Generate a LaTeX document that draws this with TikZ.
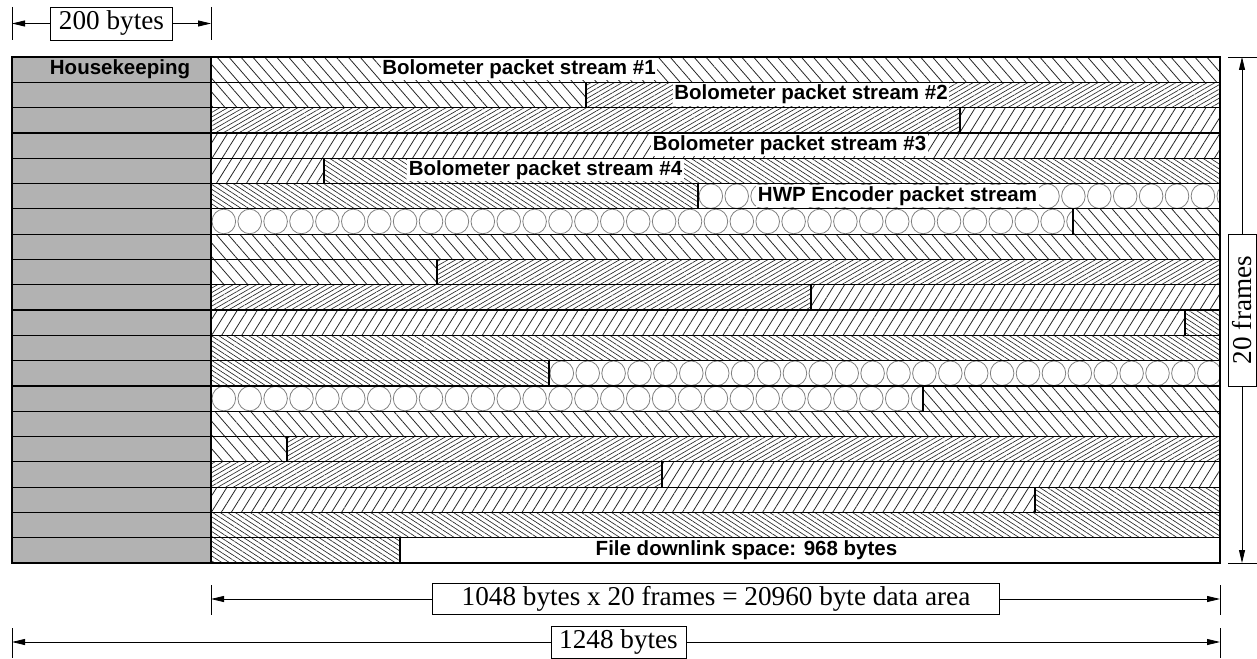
\documentclass[tikz,border=0pt]{standalone}
\usepackage{fontspec}
\setmainfont{Liberation Serif}
\setsansfont{Liberation Sans}
\usetikzlibrary{patterns.meta,arrows.meta}
\tikzset{
  hatchA/.style={pattern={Lines[angle=-49,distance=9pt,line width=0.8pt]},pattern color=black!85},
  hatchB/.style={pattern={Lines[angle=30,distance=3.9pt,line width=0.65pt]},pattern color=black!85},
  hatchC/.style={pattern={Lines[angle=58,distance=8.5pt,line width=0.8pt]},pattern color=black!85},
  hatchD/.style={pattern={Lines[angle=-33,distance=4.1pt,line width=0.65pt]},pattern color=black!85},
  blank/.style={fill=white},
  cell/.style={draw=black,line width=1.2pt},
  hkcell/.style={cell,fill=black!30},
  circ/.style={draw=black!50,line width=0.8pt},
  lbltext/.style={font=\sffamily\bfseries\fontsize{20.5}{24}\selectfont,inner sep=1.5pt,anchor=base},
  lbl/.style={lbltext,fill=white},
  dimbox/.style={draw=black,line width=0.8pt,fill=white,font=\fontsize{27.2}{32}\selectfont,inner sep=0pt},
  dimline/.style={line width=0.8pt,-{Triangle[length=13pt,width=6pt]}},
  tickline/.style={line width=0.8pt},
}
\newcommand\pseg[4]{%
  \pgfmathsetmacro\yt{57+25.3*(#3-1)}%
  \pgfmathsetmacro\yb{\yt+25.3}%
  \path[#4,cell] (#1,\yt) rectangle (#2,\yb);%
}
\newcommand\cseg[3]{%
  \pgfmathsetmacro\yt{57+25.3*(#3-1)}%
  \pgfmathsetmacro\yc{\yt+12.65}%
  \pgfmathsetmacro\yb{\yt+25.3}%
  \pgfmathtruncatemacro\nc{(#2-#1)/25.9}%
  \begin{scope}
    \clip (#1,\yt) rectangle (#2,\yb);
    \foreach \i in {0,...,\nc} \draw[circ] ({#1+12.8+\i*25.9},\yc) ellipse [x radius=11.8, y radius=12.3];
  \end{scope}
  \draw[cell] (#1,\yt) rectangle (#2,\yb);%
}
\begin{document}
\begin{tikzpicture}[x=1pt,y=-1pt]
\useasboundingbox (0,0) rectangle (1257,658);
% housekeeping column
\foreach \r in {1,...,20}{
  \pgfmathsetmacro\ht{57+25.3*(\r-1)}
  \pgfmathsetmacro\hb{\ht+25.3}
  \path[hkcell] (12,\ht) rectangle (211,\hb);
}
% data rows
\pseg{211}{1220}{1}{hatchA}
\pseg{211}{586}{2}{hatchA}
\pseg{586}{1220}{2}{hatchB}
\pseg{211}{960}{3}{hatchB}
\pseg{960}{1220}{3}{hatchC}
\pseg{211}{1220}{4}{hatchC}
\pseg{211}{324}{5}{hatchC}
\pseg{324}{1220}{5}{hatchD}
\pseg{211}{698}{6}{hatchD}
\cseg{698}{1220}{6}
\cseg{211}{1073}{7}
\pseg{1073}{1220}{7}{hatchA}
\pseg{211}{1220}{8}{hatchA}
\pseg{211}{437}{9}{hatchA}
\pseg{437}{1220}{9}{hatchB}
\pseg{211}{811}{10}{hatchB}
\pseg{811}{1220}{10}{hatchC}
\pseg{211}{1185}{11}{hatchC}
\pseg{1185}{1220}{11}{hatchD}
\pseg{211}{1220}{12}{hatchD}
\pseg{211}{549}{13}{hatchD}
\cseg{549}{1220}{13}
\cseg{211}{923}{14}
\pseg{923}{1220}{14}{hatchA}
\pseg{211}{1220}{15}{hatchA}
\pseg{211}{287}{16}{hatchA}
\pseg{287}{1220}{16}{hatchB}
\pseg{211}{662}{17}{hatchB}
\pseg{662}{1220}{17}{hatchC}
\pseg{211}{1035}{18}{hatchC}
\pseg{1035}{1220}{18}{hatchD}
\pseg{211}{1220}{19}{hatchD}
\pseg{211}{400}{20}{hatchD}
\pseg{400}{1220}{20}{blank}
% labels
\node[lbltext] (hk) at (120,74.5) {Housekeeping};
\node[lbl] (s1) at (519,74.5) {Bolometer packet stream \#1};
\node[lbl] (s2) at (811,99.8) {Bolometer packet stream \#2};
\node[lbl] (s3) at (789.5,150.4) {Bolometer packet stream \#3};
\node[lbl] (s4) at (545.5,175.7) {Bolometer packet stream \#4};
\node[lbl] (hwp) at (897.5,201) {HWP Encoder packet stream};
\node[lbltext] (fd) at (746.5,555.2) {File downlink space: 968 bytes};
% 200 bytes dimension
\coordinate (l200) at (12,23.5);
\coordinate (r200) at (211,23.5);
\draw[tickline] (12,7) -- (12,40);
\draw[tickline] (211,7) -- (211,40);
\node[dimbox,minimum width=122pt,minimum height=33pt] (b200) at (111.5,23.5) {200 bytes};
\draw[dimline] (b200) -- (l200);
\draw[dimline] (b200) -- (r200);
% 20 frames dimension
\coordinate (t20) at (1242,57);
\coordinate (u20) at (1242,563);
\draw[tickline] (1228,57) -- (1257,57);
\draw[tickline] (1228,563) -- (1257,563);
\node[dimbox,rotate=90,minimum width=152pt,minimum height=28pt] (b20) at (1242,310) {20 frames};
\draw[dimline] (b20) -- (t20);
\draw[dimline] (b20) -- (u20);
% 1048 bytes dimension
\coordinate (l1048) at (211,599);
\coordinate (r1048) at (1220,599);
\draw[tickline] (211,585) -- (211,615);
\draw[tickline] (1220,585) -- (1220,615);
\node[dimbox,minimum width=567pt,minimum height=31pt] (b1048) at (716,599) {1048 bytes x 20 frames = 20960 byte data area};
\draw[dimline] (b1048) -- (l1048);
\draw[dimline] (b1048) -- (r1048);
% 1248 bytes dimension
\coordinate (l1248) at (12,642);
\coordinate (r1248) at (1220,642);
\draw[tickline] (12,628) -- (12,658);
\draw[tickline] (1220,628) -- (1220,658);
\node[dimbox,minimum width=135pt,minimum height=32pt] (b1248) at (618.5,642) {1248 bytes};
\draw[dimline] (b1248) -- (l1248);
\draw[dimline] (b1248) -- (r1248);
\end{tikzpicture}
\end{document}
